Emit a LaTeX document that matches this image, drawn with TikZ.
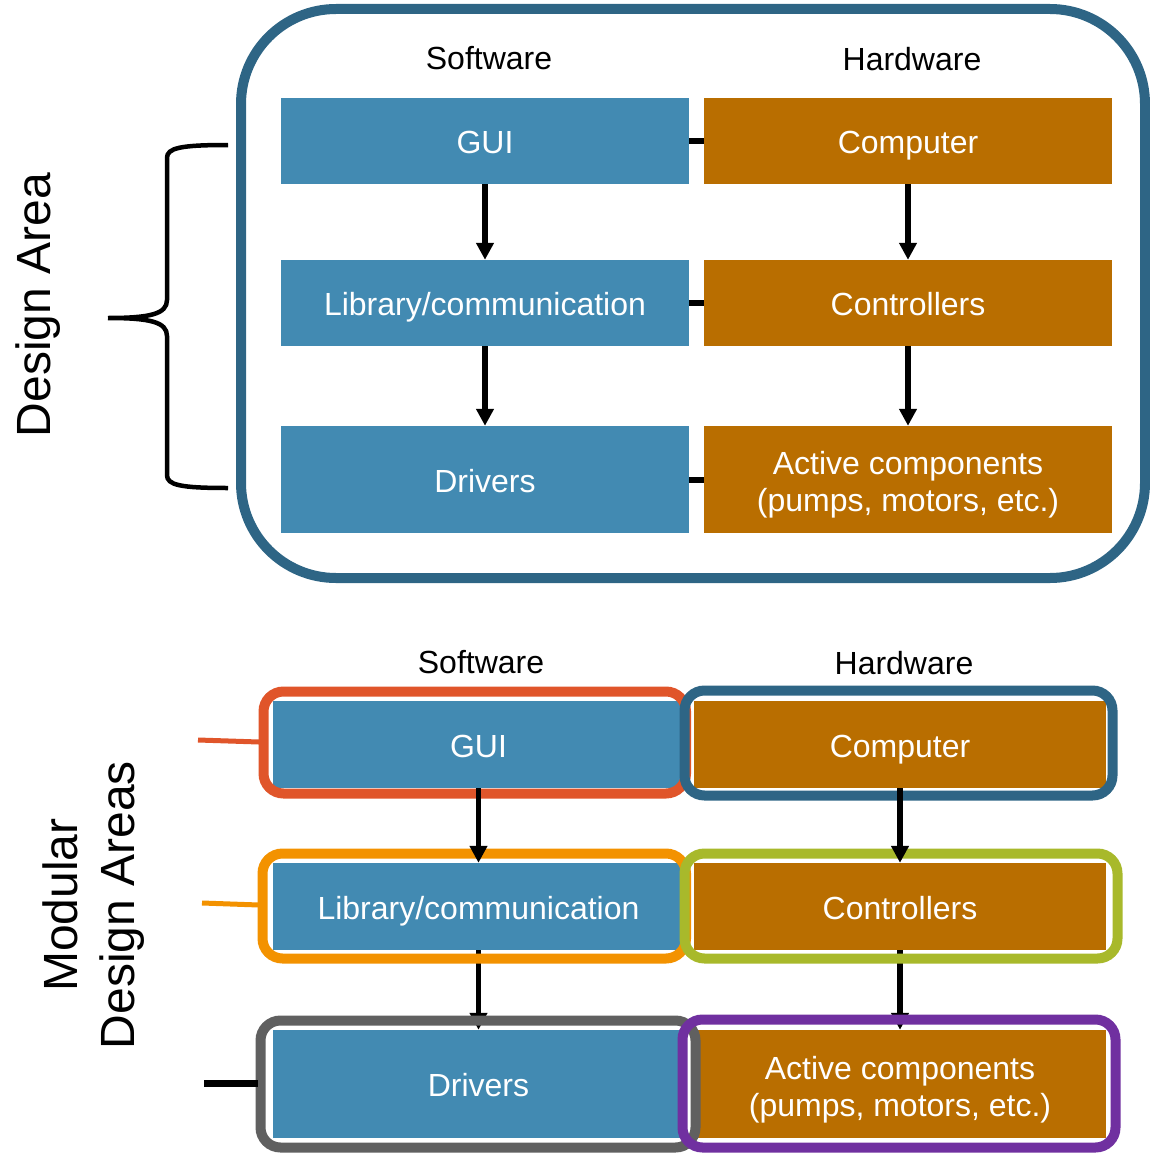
\documentclass[tikz,border=0pt]{standalone}
\usepackage{fontspec}
\setmainfont{Liberation Sans}
\usetikzlibrary{arrows.meta}
\definecolor{swblue}{RGB}{66,138,178}
\definecolor{hworange}{RGB}{185,110,0}
\definecolor{framedark}{RGB}{46,101,133}
\definecolor{framered}{RGB}{224,85,42}
\definecolor{frameorange}{RGB}{243,146,0}
\definecolor{framelime}{RGB}{168,185,43}
\definecolor{framegray}{RGB}{96,96,96}
\definecolor{framepurple}{RGB}{112,48,160}
\tikzset{
  swbox/.style={fill=swblue, draw=none, text=white, minimum width=408pt, minimum height=86pt, inner sep=0pt, font=\fontsize{32}{37}\selectfont, align=center, text height=25pt, text depth=0pt},
  hwbox/.style={swbox, fill=hworange},
  twoline/.style={text height=64pt, text depth=0pt},
  lbl/.style={font=\fontsize{32}{38}\selectfont, inner sep=0pt},
  bigl/.style={font=\fontsize{48}{57}\selectfont, inner sep=0pt, rotate=90, align=center},
  arr/.style={line width=5.5pt, -{Triangle[length=17pt,width=17pt]}},
  link/.style={line width=6pt},
  modframe/.style={line width=10pt, rounded corners=20pt},
}
\begin{document}
\begin{tikzpicture}[x=1pt,y=-1pt]
\useasboundingbox (0,0) rectangle (1150,1153);
% ---------- top section ----------
\draw[framedark, line width=10pt, rounded corners=95pt] (241,9) rectangle (1145,578);
\node[lbl] (sw1) at (489,58) {Software};
\node[lbl] (hw1) at (912,59) {Hardware};
\node[swbox] (gui1) at (485,141) {GUI};
\node[swbox] (lib1) at (485,303) {Library/communication};
\node[swbox, minimum height=107pt] (drv1) at (485,479.5) {Drivers};
\node[hwbox] (cmp1) at (908,141) {Computer};
\node[hwbox] (ctl1) at (908,303) {Controllers};
\node[hwbox, twoline, minimum height=107pt] (act1) at (908,479.5) {Active components\\(pumps, motors, etc.)};
\draw[link] (gui1.east) -- (cmp1.west);
\draw[link] (lib1.east) -- (ctl1.west);
\draw[link] (drv1.east) -- (act1.west);
\draw[arr] (gui1.south) -- (lib1.north);
\draw[arr] (lib1.south) -- (drv1.north);
\draw[arr] (cmp1.south) -- (ctl1.north);
\draw[arr] (ctl1.south) -- (act1.north);
% brace
\coordinate (bt) at (228,145);
\coordinate (bb) at (228,488);
\coordinate (btip) at (108,318);
\draw[line width=4.5pt] (bt) .. controls (180,145) and (167,148) .. (167,158)
  -- (167,300) .. controls (167,314) and (150,318) .. (btip)
  (btip) .. controls (150,318) and (167,322) .. (167,336)
  -- (167,475) .. controls (167,485) and (180,488) .. (bb);
\node[bigl] (da) at (38,305) {Design Area};
% ---------- bottom section ----------
\node[lbl] (sw2) at (481,662) {Software};
\node[lbl] (hw2) at (904,663) {Hardware};
\node[swbox, minimum width=411pt, minimum height=87pt] (gui2) at (478.5,744.5) {GUI};
\node[swbox, minimum width=411pt, minimum height=87pt] (lib2) at (478.5,906.5) {Library/communication};
\node[swbox, minimum width=411pt, minimum height=108pt] (drv2) at (478.5,1084) {Drivers};
\node[hwbox, minimum width=412pt, minimum height=87pt] (cmp2) at (900,744.5) {Computer};
\node[hwbox, minimum width=412pt, minimum height=87pt] (ctl2) at (900,906.5) {Controllers};
\node[hwbox, twoline, minimum width=412pt, minimum height=108pt] (act2) at (900,1084) {Active components\\(pumps, motors, etc.)};
\draw[arr] (lib2.south) -- (drv2.north);
\draw[arr] (ctl2.south) -- (act2.north);
% frames
\draw[modframe, framered] (263.5,691.5) rectangle (686,793.5);
\draw[modframe, frameorange] (262.5,853.5) rectangle (686,958.5);
\draw[modframe, framegray] (260.5,1020.5) rectangle (695.5,1147.5);
\draw[modframe, framedark] (684.5,690.5) rectangle (1112.5,795.5);
\draw[modframe, framelime] (684.5,853.5) rectangle (1117.5,958.5);
\draw[modframe, framepurple] (682.5,1019.5) rectangle (1115.5,1147.5);
\draw[arr] (gui2.south) -- (lib2.north);
\draw[arr] (cmp2.south) -- (ctl2.north);
% ticks
\coordinate (t1a) at (198,740);
\coordinate (t1b) at (259,742);
\coordinate (t2a) at (202,903);
\coordinate (t2b) at (259,905);
\coordinate (t3a) at (204,1083);
\coordinate (t3b) at (258,1083);
\draw[framered, line width=5pt] (t1a) -- (t1b);
\draw[frameorange, line width=5pt] (t2a) -- (t2b);
\draw[black, line width=7pt] (t3a) -- (t3b);
\node[bigl] (mda) at (94,905) {Modular\\Design Areas};
\end{tikzpicture}
\end{document}
